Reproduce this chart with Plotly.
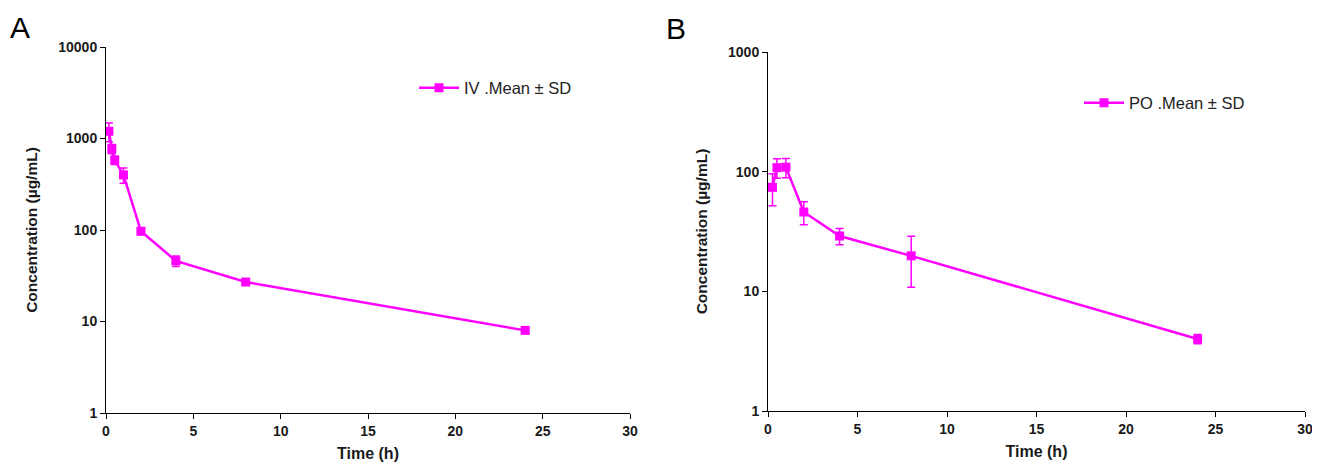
import plotly.graph_objects as go

# Panel A: IV
iv_time = [0.167, 0.333, 0.5, 1, 2, 4, 8, 24]
iv_mean = [1200, 770, 580, 400, 97, 46, 27, 8]
iv_sd = [280, 90, 60, 75, 8, 6, 2, 0.6]

# Panel B: PO
po_time = [0.25, 0.5, 1, 2, 4, 8, 24]
po_mean = [74, 108, 109, 46, 29, 19.8, 4.0]
po_sd = [22, 20, 20, 10, 4.5, 9, 0.35]

y_ticks_a = [1, 10, 100, 1000, 10000]
y_ticks_b = [1, 10, 100, 1000]
x_ticks = [0, 5, 10, 15, 20, 25, 30]

MAG = "#FF00FF"
FONT = "Liberation Sans, Arial, sans-serif"

fig = go.Figure()

fig.add_trace(go.Scatter(
    x=iv_time, y=iv_mean, mode="lines+markers", name="IV .Mean ± SD",
    line=dict(color=MAG, width=2.5),
    marker=dict(symbol="square", size=9, color=MAG),
    error_y=dict(type="data", array=iv_sd, color=MAG, thickness=1.5, width=4),
    xaxis="x", yaxis="y", legend="legend", showlegend=True,
))
fig.add_trace(go.Scatter(
    x=po_time, y=po_mean, mode="lines+markers", name="PO .Mean ± SD",
    line=dict(color=MAG, width=2.5),
    marker=dict(symbol="square", size=9, color=MAG),
    error_y=dict(type="data", array=po_sd, color=MAG, thickness=1.5, width=4),
    xaxis="x2", yaxis="y2", legend="legend2", showlegend=True,
))

# page body has an 8px margin: figure starts at (8, 8) in the window
OFF = 8
W, H = 1320 - OFF, 469 - OFF

def dx(px):
    return (px - OFF) / W

def dy(py):
    return 1 - (py - OFF) / H

tickfont = dict(family=FONT, size=14, color="#1a1a1a", weight="bold")
titlefont = dict(family=FONT, size=15.5, color="#1a1a1a", weight="bold")
xtitlefont = dict(family=FONT, size=16, color="#1a1a1a", weight="bold")

common_x = dict(
    range=[0, 30], tickvals=x_ticks, ticks="outside", ticklen=5, tickcolor="black",
    showline=True, linecolor="black", linewidth=1, showgrid=False, zeroline=False,
    automargin=False, ticklabeloverflow="allow",
    tickfont=tickfont, title=dict(text="Time (h)", font=xtitlefont, standoff=10),
)
common_y = dict(
    type="log", ticks="outside", ticklen=5, tickcolor="black",
    showline=True, linecolor="black", linewidth=1, showgrid=False, zeroline=False,
    automargin=False, ticklabeloverflow="allow",
    tickfont=tickfont, title=dict(text="Concentration (µg/mL)", font=titlefont, standoff=16),
)

fig.update_layout(
    template="none",
    width=W, height=H,
    margin=dict(l=0, r=0, t=0, b=0, autoexpand=False),
    paper_bgcolor="white", plot_bgcolor="white",
    font=dict(family=FONT, color="black"),
    showlegend=True,
    xaxis=dict(domain=[dx(106), dx(630)], anchor="y", **common_x),
    yaxis=dict(domain=[dy(413), dy(47)], anchor="x", range=[0, 4],
               tickvals=y_ticks_a, ticktext=[str(v) for v in y_ticks_a], **common_y),
    xaxis2=dict(domain=[dx(768), dx(1305)], anchor="y2", **common_x),
    yaxis2=dict(domain=[dy(411), dy(52)], anchor="x2", range=[0, 3],
                tickvals=y_ticks_b, ticktext=[str(v) for v in y_ticks_b], **common_y),
    legend=dict(x=dx(414), y=dy(88), xanchor="left", yanchor="middle", itemwidth=40,
                bgcolor="rgba(0,0,0,0)", font=dict(family=FONT, size=16.5, color="#222222")),
    legend2=dict(x=dx(1079), y=dy(103), xanchor="left", yanchor="middle", itemwidth=40,
                 bgcolor="rgba(0,0,0,0)", font=dict(family=FONT, size=16.5, color="#222222")),
    annotations=[
        dict(text="A", x=dx(8), y=dy(27), xref="paper", yref="paper", showarrow=False,
             xanchor="left", yanchor="middle", font=dict(family=FONT, size=30, color="black")),
        dict(text="B", x=dx(664), y=dy(29), xref="paper", yref="paper", showarrow=False,
             xanchor="left", yanchor="middle", font=dict(family=FONT, size=30, color="black")),
    ],
)

fig.write_html("out.html")
